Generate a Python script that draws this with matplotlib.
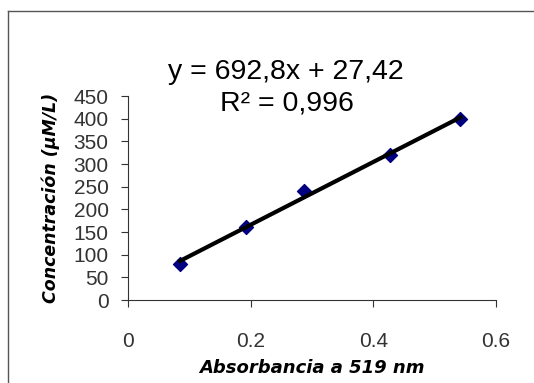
import matplotlib
matplotlib.use("Agg")
import matplotlib.pyplot as plt
from matplotlib.lines import Line2D
import numpy as np

absorbance = [0.085, 0.193, 0.287, 0.427, 0.542]
concentration = [80, 160, 240, 320, 400]
slope, intercept = 692.8, 27.42
xticks = [0, 0.2, 0.4, 0.6]
yticks = list(range(0, 451, 50))

plt.rcParams['font.family'] = ['Liberation Sans', 'DejaVu Sans']

fig = plt.figure(figsize=(5.34, 3.83), dpi=100)
ax = fig.add_axes([128/534, 1-300/383, 368/534, 204/383])

xfit = np.array([absorbance[0], absorbance[-1]])
ax.plot(xfit, slope * xfit + intercept, color='black', lw=3, zorder=3)
ax.scatter(absorbance, concentration, marker='D', s=50, color='#000080', zorder=2)

ax.set_xlim(0, 0.6)
ax.set_ylim(0, 450)
ax.set_xticks(xticks)
ax.set_xticklabels(['0', '0.2', '0.4', '0.6'])
ax.set_yticks(yticks)
ax.spines['top'].set_visible(False)
ax.spines['right'].set_visible(False)
for s in ['left', 'bottom']:
    ax.spines[s].set_color('#333333')
ax.tick_params(axis='x', direction='out', length=5, pad=18, labelsize=15, colors='#333333')
ax.tick_params(axis='y', direction='out', length=5, pad=9, labelsize=15, colors='#333333')

ax.set_xlabel('Absorbancia a 519 nm', fontsize=13, fontweight='bold',
              family='DejaVu Sans', style='italic', labelpad=6)
ax.set_ylabel('Concentración (µM/L)', fontsize=12.5, fontweight='bold',
              family='DejaVu Sans', style='italic', labelpad=10)

fig.text(286/534, 1-72/383, 'y = 692,8x + 27,42', ha='center', va='center', fontsize=20.5)
fig.text(287/534, 1-103/383, 'R² = 0,996', ha='center', va='center', fontsize=20.5)

# chart border
fig.add_artist(Line2D([8/534, 1], [1-11/383, 1-11/383], color='#555555', lw=1))
fig.add_artist(Line2D([8/534, 8/534], [1-11/383, 0], color='#555555', lw=1))

fig.savefig('out.png', dpi=100)
